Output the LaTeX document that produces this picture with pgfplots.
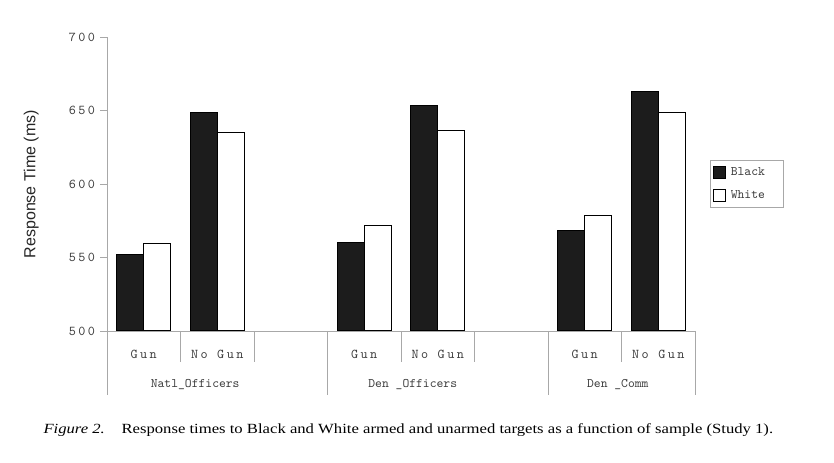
\documentclass[border=0pt]{standalone}
\usepackage{fontspec}
\usepackage{pgfplots}
\pgfplotsset{compat=1.18}
\setmainfont{Liberation Serif}
\newfontfamily\arialfont{Liberation Sans}
\newfontfamily\lmmono{lmmono10-regular.otf}
\newfontfamily\lmmonowide[LetterSpace=18]{lmmono10-regular.otf}
\newcommand{\monofont}{\lmmono\fontsize{13bp}{15bp}\selectfont}
\newcommand{\monowide}{\lmmonowide\fontsize{13.5bp}{15bp}\selectfont}
\definecolor{axisgray}{HTML}{A8A8A8}
\definecolor{labelgray}{HTML}{3C3C3C}
\definecolor{barblack}{HTML}{1C1C1C}

\begin{document}
\begin{tikzpicture}
\path[use as bounding box] (0,0) rectangle (834bp,463bp);
\begin{axis}[
    at={(107bp,132bp)}, anchor=south west,
    scale only axis, width=588bp, height=293.5bp,
    xmin=0, xmax=8, ymin=500, ymax=700,
    clip mode=individual,
    axis x line*=bottom, axis y line*=left,
    axis line style={axisgray, line width=0.8bp},
    ytick={500,550,...,700},
    tick align=outside, major tick length=7bp,
    ytick style={axisgray, line width=0.8bp},
    xtick style={draw=none},
    /pgf/number format/assume math mode=true,
    yticklabel style={font=\monowide, text=labelgray, xshift=-1.5bp},
    xtick={0.5,1.5,3.5,4.5,6.5,7.5},
    xticklabels={Gun,No Gun,Gun,No Gun,Gun,No Gun},
    xticklabel style={font=\monowide, text=labelgray, anchor=center, yshift=-16bp},
    ylabel={Response Time (ms)},
    ylabel style={font=\arialfont\fontsize{16bp}{18bp}\selectfont, text=black!85,
        at={(axis description cs:-0.129,0.5)}, anchor=center},
    ybar=0pt, bar width=27bp,
    legend style={at={(1.0255,0.5825)}, anchor=north west, draw=axisgray,
        font=\monofont, text=labelgray,
        inner xsep=3bp, inner ysep=5bp, row sep=10bp},
    legend image code/.code={\draw[#1, line width=0.6bp] (0bp,-6bp) rectangle (12bp,6bp);},
]
\addplot[fill=barblack, draw=black, line width=1bp] coordinates {
    (0.5,552.3) (1.5,648.8) (3.5,560.3) (4.5,653.8) (6.5,568.3) (7.5,663.3)};
\addplot[fill=white, draw=black, line width=1bp] coordinates {
    (0.5,559.8) (1.5,635.6) (3.5,571.7) (4.5,636.7) (6.5,578.6) (7.5,649.0)};
\legend{\makebox[50bp][l]{\hspace{3bp}Black}, \makebox[50bp][l]{\hspace{3bp}White}}

% category separators below the axis
\draw[axisgray, line width=0.8bp] (axis cs:0,500) -- ([yshift=-64bp]axis cs:0,500);
\draw[axisgray, line width=0.8bp] (axis cs:1,500) -- ([yshift=-31bp]axis cs:1,500);
\draw[axisgray, line width=0.8bp] (axis cs:2,500) -- ([yshift=-31bp]axis cs:2,500);
\draw[axisgray, line width=0.8bp] (axis cs:3,500) -- ([yshift=-64bp]axis cs:3,500);
\draw[axisgray, line width=0.8bp] (axis cs:4,500) -- ([yshift=-31bp]axis cs:4,500);
\draw[axisgray, line width=0.8bp] (axis cs:5,500) -- ([yshift=-31bp]axis cs:5,500);
\draw[axisgray, line width=0.8bp] (axis cs:6,500) -- ([yshift=-64bp]axis cs:6,500);
\draw[axisgray, line width=0.8bp] (axis cs:7,500) -- ([yshift=-31bp]axis cs:7,500);
\draw[axisgray, line width=0.8bp] (axis cs:8,500) -- ([yshift=-64bp]axis cs:8,500);

% group labels
\node[font=\monofont, text=labelgray] at ([yshift=-54bp]axis cs:1.2,500) {Natl\_Officers};
\node[font=\monofont, text=labelgray] at ([yshift=-54bp]axis cs:4.16,500) {Den \_Officers};
\node[font=\monofont, text=labelgray] at ([yshift=-54bp]axis cs:6.95,500) {Den \_Comm};
\end{axis}
\node[anchor=base west, font=\fontsize{14bp}{16bp}\selectfont] at (40bp,30bp)
    {\scalebox{1.19}[1]{\textit{Figure 2.}\hspace{14bp}Response times to Black and White armed and unarmed targets as a function of sample (Study 1).}};
\end{tikzpicture}
\end{document}
